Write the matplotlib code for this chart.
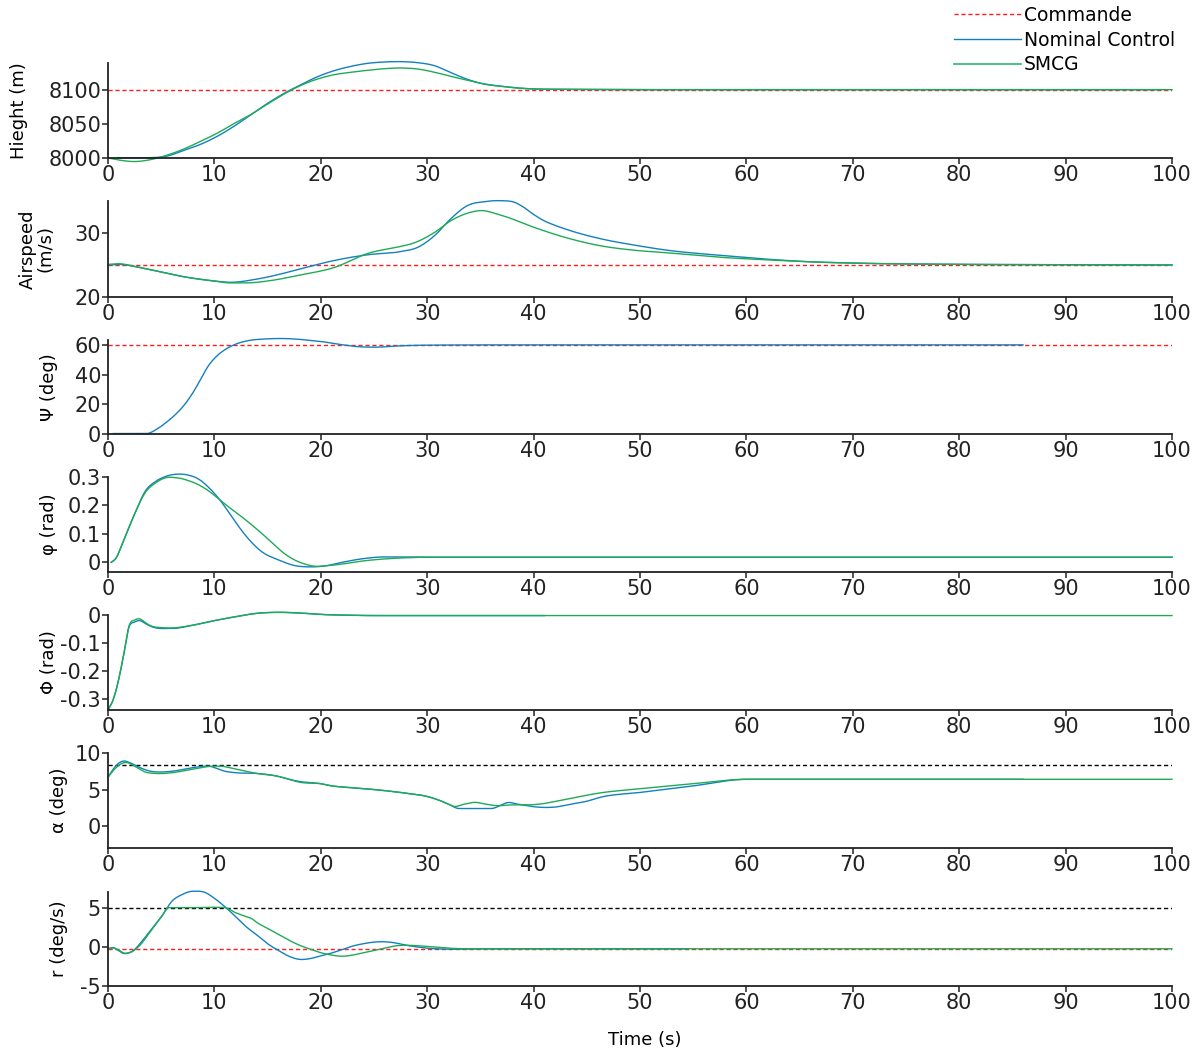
import numpy as np
import matplotlib
matplotlib.use("Agg")
import matplotlib.pyplot as plt
from matplotlib.lines import Line2D

# ---------------- data ----------------
# Height (m)
h_cmd = 8100
h_nom_t = [0.9, 2.5, 4, 5.6, 7.1, 8.7, 10.3, 11.8, 13.4, 15, 16.6, 18.1, 19.7, 21.3, 22.8, 24.4, 26, 27.5, 29.1, 30.7, 32.2, 33.8, 35.4, 36.9, 38.5, 40.1, 42.6, 46, 50, 60, 80, 99]
h_nom_v = [8000.5, 8000.3, 8000.5, 8003, 8011, 8020, 8032, 8046, 8063, 8080, 8095, 8107, 8119, 8128, 8134, 8138.5, 8140.5, 8141, 8139.5, 8135, 8125, 8115, 8108, 8105, 8102.4, 8101, 8100.5, 8100.2, 8100, 8100, 8100, 8100]
h_smc_t = [0, 1.2, 2.4, 4, 5.6, 7.1, 8.7, 10.3, 11.8, 13.4, 15, 16.6, 18.1, 19.7, 21.3, 22.8, 24.4, 26, 27.5, 29.1, 30.7, 32.2, 33.8, 35.4, 36.9, 38.5, 40.1, 42.6, 46, 50, 60, 80, 100]
h_smc_v = [8000, 7996.6, 7994.8, 7997.6, 8004.4, 8013, 8024.4, 8036.6, 8050, 8063.4, 8079, 8094, 8106, 8115.6, 8122, 8125.4, 8128.3, 8130.7, 8131.7, 8130.2, 8125.4, 8119.5, 8113.7, 8108.3, 8105, 8102.4, 8101, 8100.5, 8100.2, 8100, 8100, 8100, 8100]

# Airspeed (m/s)
v_cmd = 25
v_nom_t = [0, 1, 3, 5, 7, 10, 11.5, 14, 16, 18.1, 21.25, 24.4, 27.5, 29.1, 30.7, 32.2, 33.8, 35.4, 36.9, 38.2, 39, 40, 41, 42, 43.2, 46.3, 49.5, 52.6, 57.6, 62, 66, 70, 80, 90, 100]
v_nom_v = [25.0, 25.1, 24.6, 23.9, 23.2, 22.5, 22.3, 22.8, 23.5, 24.4, 25.7, 26.6, 27.1, 27.75, 29.6, 32.2, 34.3, 34.9, 35.05, 34.8, 34.1, 32.9, 31.9, 31.2, 30.5, 29.1, 28.1, 27.3, 26.5, 25.9, 25.5, 25.3, 25.1, 25.05, 25.0]
v_smc_t = [0, 1, 3, 5, 7, 10, 11.5, 13, 15, 18.1, 21.25, 24.4, 27.5, 28.5, 30.7, 32.2, 33.8, 35, 36.9, 40, 43.2, 46.3, 49.5, 52.6, 57.6, 62, 66, 70, 80, 90, 100]
v_smc_v = [25.1, 25.2, 24.6, 23.9, 23.2, 22.5, 22.2, 22.2, 22.5, 23.45, 24.6, 26.8, 27.9, 28.3, 30.1, 31.9, 33.1, 33.5, 32.8, 30.9, 29.2, 28.0, 27.3, 26.9, 26.2, 25.8, 25.5, 25.3, 25.1, 25.05, 25.0]

# Heading Psi (deg)
psi_cmd = 60
psi_nom_t = [0.5, 2, 3.6, 4.7, 5.5, 6.3, 7.1, 7.9, 8.6, 9.4, 10.2, 11, 11.9, 13.2, 14.8, 16.4, 17.9, 18.9, 20, 22, 24, 25.5, 27, 30, 40, 60, 86]
psi_nom_v = [0.3, 0.3, 0.3, 3.8, 8, 12.9, 19, 27, 35.5, 45.7, 52.5, 57, 60.4, 63.1, 64.2, 64.5, 64, 63.3, 62.5, 60.3, 58.8, 58.7, 59.4, 60, 60.2, 60.2, 60.2]

# phi (rad)
p_nom_t = [0.3, 0.7, 1.5, 2.5, 3.5, 4.5, 5.5, 6.5, 7.5, 8.5, 9.5, 10.5, 11.5, 12.5, 13.5, 14.5, 16, 17.5, 19, 20.5, 22, 24, 26, 28, 30, 50, 100]
p_nom_v = [0, 0.012, 0.08, 0.17, 0.25, 0.285, 0.303, 0.31, 0.307, 0.293, 0.262, 0.22, 0.168, 0.115, 0.07, 0.036, 0.009, -0.011, -0.016, -0.012, 0, 0.013, 0.019, 0.019, 0.018, 0.018, 0.018]
p_smc_t = [0.3, 0.7, 1.5, 2.5, 3.5, 4.5, 5.5, 6.5, 7.5, 8.5, 9.5, 10.5, 11.5, 12.5, 13.5, 14.5, 15.5, 16.5, 17.5, 18.5, 19.5, 20.5, 22, 24, 26, 28, 30, 50, 100]
p_smc_v = [0, 0.012, 0.08, 0.17, 0.245, 0.28, 0.298, 0.297, 0.288, 0.273, 0.25, 0.22, 0.19, 0.162, 0.132, 0.1, 0.066, 0.033, 0.009, -0.006, -0.014, -0.012, -0.006, 0.005, 0.012, 0.016, 0.018, 0.018, 0.018]

# Phi (rad)
P_nom_t = [0, 0.5, 1, 1.5, 2, 2.5, 3, 3.5, 4, 5, 6, 8, 10, 12, 14, 16, 18, 20, 23, 25, 30, 41]
P_nom_v = [-0.338, -0.30, -0.23, -0.136, -0.04, -0.025, -0.02, -0.03, -0.04, -0.048, -0.048, -0.036, -0.02, -0.006, 0.006, 0.0095, 0.007, 0.002, -0.001, -0.002, -0.002, -0.002]
P_smc_t = [0, 0.5, 1, 1.5, 2, 2.5, 3, 3.5, 4, 5, 6, 8, 10, 12, 14, 16, 18, 20, 23, 25, 30, 60, 100]
P_smc_v = [-0.338, -0.30, -0.23, -0.136, -0.036, -0.018, -0.014, -0.027, -0.038, -0.045, -0.046, -0.036, -0.02, -0.006, 0.006, 0.0095, 0.007, 0.002, -0.001, -0.002, -0.002, -0.002, -0.002]

# alpha (deg)
a_ref = 8.3
a_nom_t = [0, 0.5, 1, 1.5, 2, 3, 4, 5, 6, 8, 9, 9.5, 10, 11, 12, 14, 16, 17, 18, 20, 21, 22, 25, 28, 30, 31, 32, 33, 34, 36, 37, 37.5, 38.5, 40, 41, 42, 43.5, 45, 46.3, 50, 55, 60, 70, 86]
a_nom_v = [6.7, 7.8, 8.6, 8.9, 8.7, 8.0, 7.5, 7.4, 7.5, 8.0, 8.2, 8.2, 8.0, 7.5, 7.3, 7.2, 6.8, 6.4, 6.1, 5.8, 5.5, 5.35, 5.0, 4.5, 4.05, 3.6, 3.0, 2.4, 2.4, 2.4, 2.9, 3.2, 3.0, 2.65, 2.55, 2.6, 3.0, 3.4, 3.95, 4.6, 5.5, 6.4, 6.4, 6.4]
a_smc_t = [0, 0.5, 1.2, 1.7, 2.5, 3.5, 4.5, 6, 8, 10, 10.5, 12, 14, 16, 17, 18, 20, 21, 22, 25, 28, 30, 31, 32, 32.5, 33.5, 34.5, 35.5, 36.5, 38, 39.5, 40.5, 43, 46.3, 50, 55, 60, 70, 100]
a_smc_v = [6.7, 7.6, 8.5, 8.7, 8.2, 7.4, 7.2, 7.3, 7.8, 8.2, 8.2, 7.8, 7.2, 6.8, 6.4, 6.0, 5.8, 5.5, 5.35, 5.0, 4.5, 4.05, 3.6, 3.0, 2.7, 3.0, 3.25, 3.0, 2.8, 2.9, 2.9, 3.0, 3.65, 4.55, 5.1, 5.8, 6.4, 6.4, 6.4]

# r (deg/s)
r_cmd = -0.25
r_ref = 5
r_nom_t = [0, 0.5, 1, 1.5, 2, 2.5, 3, 4, 5, 6, 7, 8, 8.5, 9, 10, 11, 12, 13, 14, 15, 16, 17, 18, 19, 20, 21, 22, 23, 24, 25.5, 27, 28, 29, 30, 32, 35, 54.5]
r_nom_v = [-0.25, -0.1, -0.5, -0.85, -0.75, -0.35, 0.4, 2.1, 3.8, 5.8, 6.7, 7.1, 7.1, 7.0, 6.2, 5.1, 3.85, 2.55, 1.5, 0.4, -0.45, -1.2, -1.6, -1.5, -1.15, -0.8, -0.35, 0.1, 0.4, 0.65, 0.5, 0.2, 0.0, -0.17, -0.3, -0.25, -0.25]
r_smc_t = [0, 0.5, 1, 1.5, 2, 3, 4, 5, 5.7, 8, 10, 11, 12, 13, 13.5, 14, 15, 16, 17, 18, 19, 20, 21, 22, 23, 24, 25, 26, 27, 28, 29, 30, 32, 34, 40, 100]
r_smc_v = [-0.25, -0.15, -0.4, -0.8, -0.75, 0.2, 2.0, 3.8, 5.0, 5.0, 5.05, 5.0, 4.35, 3.85, 3.6, 3.1, 2.35, 1.6, 0.85, 0.2, -0.3, -0.75, -1.05, -1.2, -1.05, -0.75, -0.45, -0.15, 0.12, 0.2, 0.15, 0.05, -0.17, -0.25, -0.25, -0.25]

ylabels = ["Hieght (m)", "Airspeed\n(m/s)", "\u03a8 (deg)", "\u03c6 (rad)", "\u03a6 (rad)", "\u03b1 (deg)", "r (deg/s)"]
ylims = [(8000, 8139), (20, 35), (0, 63.5), (-0.034, 0.3), (-0.338, 0), (-3, 10), (-5, 7)]
yticks = [[8000, 8050, 8100], [20, 30], [0, 20, 40, 60], [0, 0.1, 0.2, 0.3], [-0.3, -0.2, -0.1, 0], [0, 5, 10], [-5, 0, 5]]
yticklabels = [["8000", "8050", "8100"], ["20", "30"], ["0", "20", "40", "60"], ["0", "0.1", "0.2", "0.3"],
               ["-0.3", "-0.2", "-0.1", "0"], ["0", "5", "10"], ["-5", "0", "5"]]
xticks = list(range(0, 101, 10))
legend_labels = ["Commande", "Nominal Control", "SMCG"]

# ---------------- style ----------------
BLUE = "#1380c0"
GREEN = "#1fab55"
RED = "#ff1f1f"
plt.rcParams['font.family'] = ['DejaVu Sans']

W, H = 1200, 1053
fig = plt.figure(figsize=(W / 100, H / 100), dpi=100)
tops = [63, 201, 340, 477, 615, 753, 892]
bots = [158, 297, 434, 572, 710, 848, 986]
left, right = 108, 1172
label_x = [19, 37, 49, 49, 49, 59, 59]


def smooth(t, v, n=800):
    """Smooth cubic Hermite curve through the read points."""
    t = np.asarray(t, float); v = np.asarray(v, float)
    tt = np.linspace(t[0], t[-1], n)
    h = np.diff(t); d = np.diff(v) / h
    m = np.zeros_like(v)
    for i in range(1, len(v) - 1):
        if d[i - 1] == 0 or d[i] == 0:
            m[i] = 0.0
            continue
        mi = (h[i] * d[i - 1] + h[i - 1] * d[i]) / (h[i - 1] + h[i])
        if d[i - 1] * d[i] > 0:
            lim = 3 * min(abs(d[i - 1]), abs(d[i]))
            mi = np.sign(mi) * min(abs(mi), lim)
        m[i] = mi
    m[0] = d[0]; m[-1] = d[-1]
    idx = np.clip(np.searchsorted(t, tt) - 1, 0, len(t) - 2)
    s = (tt - t[idx]) / h[idx]
    h00 = 2 * s**3 - 3 * s**2 + 1; h10 = s**3 - 2 * s**2 + s
    h01 = -2 * s**3 + 3 * s**2; h11 = s**3 - s**2
    vv = h00 * v[idx] + h10 * h[idx] * m[idx] + h01 * v[idx + 1] + h11 * h[idx] * m[idx + 1]
    return tt, vv


axes = []
for i in range(7):
    ax = fig.add_axes([left / W, 1 - bots[i] / H, (right - left) / W, (bots[i] - tops[i]) / H])
    axes.append(ax)

dash = (0, (3, 2))
lw = 1.0


def hline(ax, y, color):
    ax.plot([0, 100], [y, y], color=color, lw=lw, linestyle=dash, zorder=1)


def curve(ax, t, v, color):
    ax.plot(*smooth(t, v), color=color, lw=lw, clip_on=False, zorder=2)


# Height
ax = axes[0]
hline(ax, h_cmd, RED)
curve(ax, h_nom_t, h_nom_v, BLUE)
curve(ax, h_smc_t, h_smc_v, GREEN)
# Airspeed
ax = axes[1]
hline(ax, v_cmd, RED)
curve(ax, v_nom_t, v_nom_v, BLUE)
curve(ax, v_smc_t, v_smc_v, GREEN)
# Psi
ax = axes[2]
hline(ax, psi_cmd, RED)
curve(ax, psi_nom_t, psi_nom_v, BLUE)
# phi
ax = axes[3]
curve(ax, p_nom_t, p_nom_v, BLUE)
curve(ax, p_smc_t, p_smc_v, GREEN)
# Phi
ax = axes[4]
curve(ax, P_nom_t, P_nom_v, BLUE)
curve(ax, P_smc_t, P_smc_v, GREEN)
# alpha
ax = axes[5]
hline(ax, a_ref, "black")
curve(ax, a_nom_t, a_nom_v, BLUE)
curve(ax, a_smc_t, a_smc_v, GREEN)
# r
ax = axes[6]
hline(ax, r_cmd, RED)
hline(ax, r_ref, "black")
curve(ax, r_nom_t, r_nom_v, BLUE)
curve(ax, r_smc_t, r_smc_v, GREEN)

for i, ax in enumerate(axes):
    ax.set_xlim(0, 100)
    ax.set_ylim(*ylims[i])
    ax.set_xticks(xticks)
    ax.set_xticklabels([str(x) for x in xticks])
    ax.set_yticks(yticks[i])
    ax.set_yticklabels(yticklabels[i])
    for s in ["top", "right"]:
        ax.spines[s].set_visible(False)
    for s in ["left", "bottom"]:
        ax.spines[s].set_linewidth(1.3)
        ax.spines[s].set_color("#222222")
        ax.spines[s].set_zorder(3)
    ax.tick_params(direction="out", length=4, width=1.1, labelsize=15, pad=1, colors="#222222")
    ax.set_ylabel(ylabels[i], fontsize=13, va="center", ha="center", linespacing=1.0)
    ax.yaxis.set_label_coords((label_x[i] - left) / (right - left), 0.5)

fig.text(645 / W, 1 - 1040 / H, "Time (s)", ha="center", va="center", fontsize=13)

handles = [Line2D([], [], color=RED, lw=lw, linestyle=dash),
           Line2D([], [], color=BLUE, lw=lw),
           Line2D([], [], color="#3cbf7a", lw=lw + 0.3)]
fig.legend(handles, legend_labels, loc="upper right", bbox_to_anchor=(1177 / W, 1 - 4 / H),
           frameon=False, fontsize=13.5, handlelength=3.6, handletextpad=0.15,
           labelspacing=0.3, borderpad=0.1, borderaxespad=0)

fig.savefig("out.png", dpi=100)
